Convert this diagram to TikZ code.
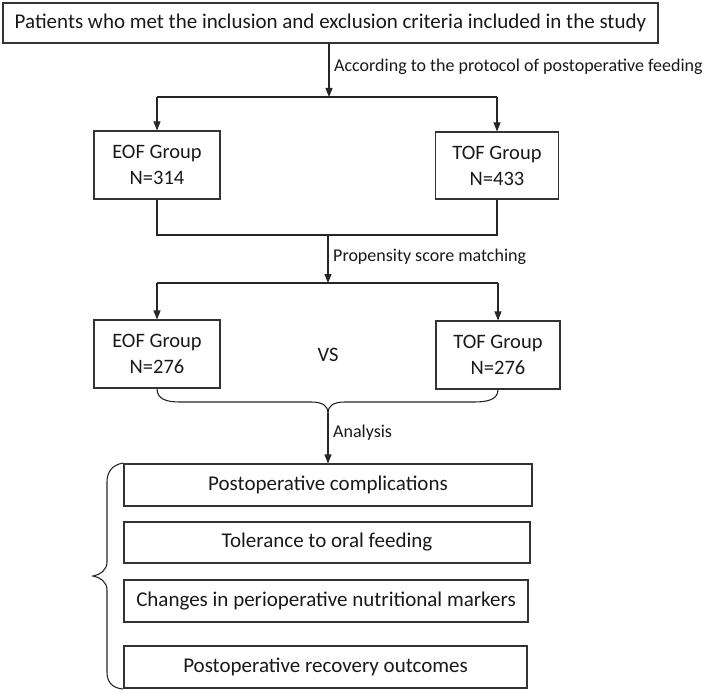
\documentclass[tikz,border=0pt]{standalone}
\usepackage{fontspec}
\setmainfont{Carlito}
\usetikzlibrary{arrows.meta}
\begin{document}
\begin{tikzpicture}[x=1pt,y=-1pt,
  box/.style={draw=black!80, line width=1.1pt, inner sep=0pt, align=center, text=black!90, font=\fontsize{20.5}{26}\selectfont},
  rbox/.style={box, minimum height=42pt, font=\fontsize{21}{25}\selectfont},
  lbl/.style={font=\fontsize{18}{21}\selectfont, anchor=west, inner sep=0pt, text=black!90},
  arr/.style={line width=1.1pt, draw=black!85, -{Triangle[length=9pt,width=7pt]}},
  ln/.style={line width=1.1pt, draw=black!85}]
\useasboundingbox (0,0) rectangle (709,695);
\node[box, minimum width=655pt, minimum height=40pt, font=\fontsize{21}{25}\selectfont] (top) at (330.5,23) {Patients who met the inclusion and exclusion criteria included in the study};
\node[box, minimum width=126pt, minimum height=68pt] (eof1) at (157,165) {EOF Group\\N=314};
\node[box, minimum width=123pt, minimum height=67pt] (tof1) at (497,165.5) {TOF Group\\N=433};
\node[box, minimum width=126pt, minimum height=68pt] (eof2) at (157,354) {EOF Group\\N=276};
\node[box, minimum width=124pt, minimum height=68pt] (tof2) at (498,355) {TOF Group\\N=276};
\node[font=\fontsize{20.5}{24}\selectfont, text=black!90, inner sep=0pt] (vs) at (328,355) {VS};
\node[rbox, minimum width=408pt] (r1) at (328,485) {Postoperative complications};
\node[rbox, minimum width=406pt, minimum height=41pt] (r2) at (327,542.5) {Tolerance to oral feeding};
\node[rbox, minimum width=404pt] (r3) at (326,601) {Changes in perioperative nutritional markers};
\node[rbox, minimum width=403pt] (r4) at (325.5,667) {Postoperative recovery outcomes};
\node[lbl] (l1) at (334,67) {According to the protocol of postoperative feeding};
\node[lbl] (l2) at (333,257) {Propensity score matching};
\node[lbl] (l3) at (333,433) {Analysis};
\coordinate (j1) at (329,97);
\coordinate (j2) at (328,235);
\coordinate (j3) at (328,283);
\coordinate (tip) at (328,413);
\draw[arr] (top.south -| j1) -- (j1);
\draw[ln] (eof1.north |- j1) -- (tof1.north |- j1);
\draw[arr] (eof1.north |- j1) -- (eof1.north);
\draw[arr] (tof1.north |- j1) -- (tof1.north);
\draw[ln] (eof1.south) -- (eof1.south |- j2) -- (tof1.south |- j2) -- (tof1.south);
\draw[arr] (j2) -- (j3);
\draw[ln] (eof2.north |- j3) -- (tof2.north |- j3);
\draw[arr] (eof2.north |- j3) -- (eof2.north);
\draw[arr] (tof2.north |- j3) -- (tof2.north);
\draw[ln] (eof2.south) .. controls (157,399) and (166,402) .. (180,402) -- (311,402) .. controls (323,402) and (328,406) .. (tip) .. controls (328,406) and (333,402) .. (345,402) -- (474,402) .. controls (489,402) and (498,399) .. (tof2.south);
\draw[arr] (tip) -- (r1.north);
\draw[ln] (123,463) .. controls (112,465) and (107,472) .. (107,482) -- (107,562) .. controls (107,570) and (100,575) .. (93,576) .. controls (100,577) and (107,582) .. (107,590) -- (107,672) .. controls (107,682) and (112,688) .. (123,689);
\end{tikzpicture}
\end{document}
